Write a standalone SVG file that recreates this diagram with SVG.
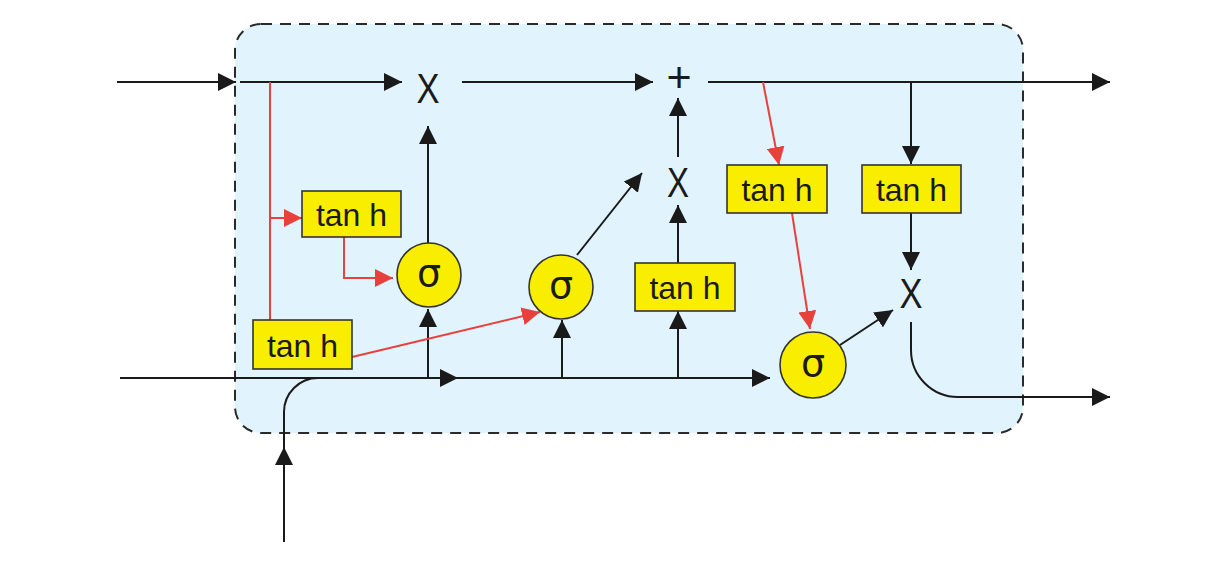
<svg xmlns="http://www.w3.org/2000/svg" width="1218" height="566" viewBox="0 0 1218 566">
<style>
.frame{fill:#e1f3fd;stroke:#2a2a2a;stroke-width:2;stroke-dasharray:11 8}
.k{fill:none;stroke:#1a1a1a;stroke-width:2}
.r{fill:none;stroke:#e8413c;stroke-width:2}
.ka{marker-end:url(#ah)}
.ra{marker-end:url(#rh)}
.box{fill:#f9ee00;stroke:#333;stroke-width:1.6}
.t{font-family:"Liberation Sans",Arial,sans-serif;font-size:32px;fill:#1a1a1a;text-anchor:middle}
.op{font-family:"Liberation Sans",Arial,sans-serif;font-size:43px;fill:#1a1a1a;text-anchor:middle}
.s{font-family:"DejaVu Sans","Liberation Sans",sans-serif;font-size:38px;fill:#1a1a1a;text-anchor:middle}
</style>
<defs>
<marker id="ah" markerUnits="userSpaceOnUse" markerWidth="18" markerHeight="18" refX="18" refY="9" orient="auto"><path d="M0,0 L18,9 L0,18 z" fill="#1a1a1a"/></marker>
<marker id="rh" markerUnits="userSpaceOnUse" markerWidth="18" markerHeight="18" refX="18" refY="9" orient="auto"><path d="M0,0 L18,9 L0,18 z" fill="#e8413c"/></marker>
</defs>
<rect width="1218" height="566" fill="#fff"/>
<rect id="cell" class="frame" x="235" y="24" width="788" height="409" rx="26"/>
<g id="connectors">
<path class="k ka" d="M117,82 L236,82"/>
<path class="k ka" d="M240,82 L402,82"/>
<path class="k ka" d="M462,82 L653,82"/>
<path class="k ka" d="M708,82 L1110,82"/>
<path class="k ka" d="M911,82 L911,164"/>
<path class="r" d="M270,82 L270,320"/>
<path class="r ra" d="M270,218 L302,218"/>
<path class="r ra" d="M344,237 L344,278 L393,278"/>
<path class="k ka" d="M428,243 L428,126"/>
<path class="k ka" d="M428,378 L428,309"/>
<path class="k ka" d="M120,378 L770,378"/>
<path class="k ka" d="M440,378 L458,378"/>
<path class="r ra" d="M352,357 L540,312"/>
<path class="k ka" d="M562,378 L562,320"/>
<path class="k ka" d="M577,255 L642,173"/>
<path class="k ka" d="M678,378 L678,311"/>
<path class="k ka" d="M678,263 L678,205"/>
<path class="k ka" d="M678,157 L678,98"/>
<path class="r ra" d="M763,82 L779,165"/>
<path class="r ra" d="M792,213 L810,329"/>
<path class="k ka" d="M840,345 L893,310"/>
<path class="k ka" d="M911,213 L911,270"/>
<path class="k ka" d="M911,322 L911,350 A47,47 0 0 0 958,397 L1110,397"/>
<path class="k ka" d="M284,542 L284,447"/>
<path class="k" d="M284,447 L284,412 A34,34 0 0 1 318,378"/>
</g>
<g id="mul1"><text class="op" x="428" y="103" textLength="23" lengthAdjust="spacingAndGlyphs">X</text></g>
<g id="add"><text class="op" x="679" y="92">+</text></g>
<g id="mul2"><text class="op" x="678" y="197" textLength="22" lengthAdjust="spacingAndGlyphs">X</text></g>
<g id="mul3"><text class="op" x="911" y="308" textLength="23" lengthAdjust="spacingAndGlyphs">X</text></g>
<g id="tanh1"><rect class="box" x="302" y="191" width="99" height="46"/><text class="t" x="351.5" y="226">tan h</text></g>
<g id="tanh2"><rect class="box" x="253" y="320" width="99" height="49"/><text class="t" x="302.5" y="357">tan h</text></g>
<g id="tanh3"><rect class="box" x="635" y="263" width="100" height="48"/><text class="t" x="685" y="299">tan h</text></g>
<g id="tanh4"><rect class="box" x="727" y="165" width="100" height="48"/><text class="t" x="777" y="201">tan h</text></g>
<g id="tanh5"><rect class="box" x="862" y="165" width="99" height="48"/><text class="t" x="911.5" y="201">tan h</text></g>
<g id="sig1"><circle class="box" cx="429" cy="275" r="32"/><text class="s" x="429" y="286">σ</text></g>
<g id="sig2"><circle class="box" cx="561" cy="287" r="32"/><text class="s" x="561" y="298">σ</text></g>
<g id="sig3"><circle class="box" cx="813" cy="365" r="33"/><text class="s" x="813" y="376">σ</text></g>
</svg>
